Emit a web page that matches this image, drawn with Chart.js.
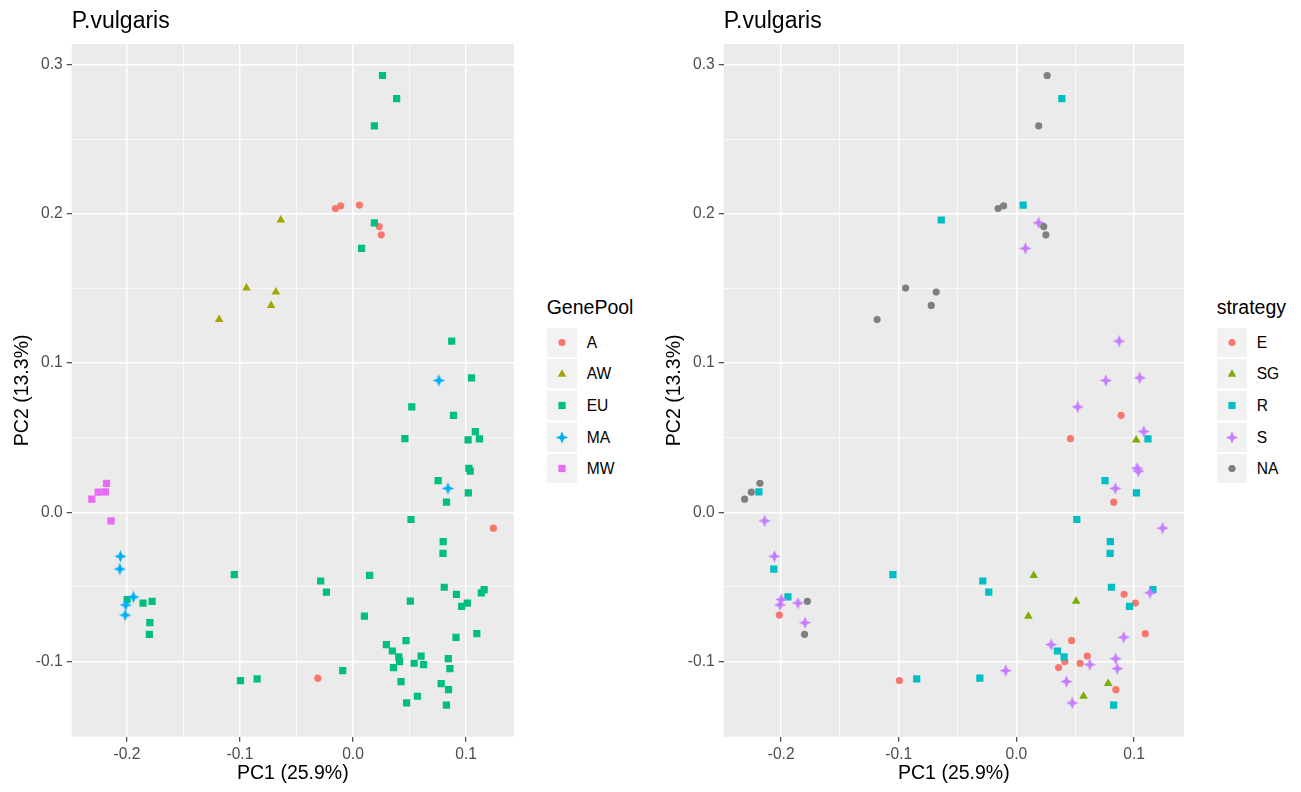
<!DOCTYPE html>
<html><head><meta charset="utf-8">
<script src="https://cdn.jsdelivr.net/npm/chart.js@4.4.1/dist/chart.umd.min.js"></script>
<style>
body{margin:0;background:#fff;width:1301px;height:792px;position:relative;overflow:hidden;font-family:"Liberation Sans",Arial,sans-serif;}
canvas{position:absolute;top:0;}
.lg-title{position:absolute;font-size:19.5px;line-height:19.5px;color:#000;white-space:nowrap}
.lg-row{position:absolute;height:29px;display:flex;align-items:center}
.lg-key{width:30px;height:29px;background:#F2F2F2;display:block}
.lg-lab{font-size:15.6px;line-height:29px;margin-left:10px;color:#000;white-space:nowrap}
</style></head>
<body>
<canvas id="c1" width="520" height="792" style="left:0px;width:520px;height:792px"></canvas>
<canvas id="c2" width="538" height="792" style="left:652px;width:538px;height:792px"></canvas>
<div id="legends"></div>
<script>
// ---- data ----
const pc1=[0.0261,0.0386,0.0189,-0.0156,-0.0109,0.0057,-0.0639,0.0189,0.0232,0.0250,
0.0076,-0.0942,-0.0682,-0.0724,-0.1184,0.0873,0.0760,0.1048,0.0520,0.0889,
0.0459,0.1082,0.1018,0.1118,0.1025,0.1037,0.0753,0.0840,0.1020,0.0827,
-0.2310,-0.2253,-0.2180,-0.2189,-0.2140,0.0513,0.1242,0.0798,0.0796,-0.2057,
-0.2062,-0.1050,0.0147,-0.0286,-0.0235,0.0807,0.0915,0.1160,0.1135,0.0507,
0.1011,0.0961,-0.1942,-0.1998,-0.2010,-0.1857,-0.1777,-0.2015,-0.1797,-0.1801,
0.0101,0.1095,0.0911,0.0295,0.0469,0.0348,0.0405,0.0411,0.0602,0.0541,
0.0624,0.0358,0.0843,0.0857,-0.0091,-0.0311,-0.0995,-0.0848,0.0425,0.0780,
0.0845,0.0570,0.0474,0.0826];
const pc2=[0.2926,0.2771,0.2589,0.2035,0.2053,0.2058,0.1958,0.1939,0.1914,0.1859,
0.1768,0.1502,0.1475,0.1386,0.1291,0.1147,0.0883,0.0901,0.0706,0.0650,
0.0493,0.0541,0.0485,0.0492,0.0295,0.0276,0.0213,0.0160,0.0130,0.0068,
0.0088,0.0135,0.0194,0.0137,-0.0057,-0.0048,-0.0106,-0.0197,-0.0275,-0.0295,
-0.0380,-0.0418,-0.0423,-0.0460,-0.0534,-0.0502,-0.0549,-0.0518,-0.0540,-0.0595,
-0.0608,-0.0630,-0.0567,-0.0584,-0.0620,-0.0608,-0.0596,-0.0688,-0.0739,-0.0817,
-0.0696,-0.0813,-0.0837,-0.0886,-0.0860,-0.0929,-0.0969,-0.1000,-0.0963,-0.1011,
-0.1020,-0.1040,-0.0980,-0.1047,-0.1060,-0.1111,-0.1127,-0.1115,-0.1134,-0.1147,
-0.1188,-0.1232,-0.1277,-0.1292];
const genePool=['EU','EU','EU','A','A','A','AW','EU','A','A',
'EU','AW','AW','AW','AW','EU','MA','EU','EU','EU',
'EU','EU','EU','EU','EU','EU','EU','MA','EU','EU',
'MW','MW','MW','MW','MW','EU','A','EU','EU','MA',
'MA','EU','EU','EU','EU','EU','EU','EU','EU','EU',
'EU','EU','MA','EU','MA','EU','EU','MA','EU','EU',
'EU','EU','EU','EU','EU','EU','EU','EU','EU','EU',
'EU','EU','EU','EU','EU','A','EU','EU','EU','EU',
'EU','EU','EU','EU'];
const strategy=['NA','R','NA','NA','NA','R','R','S','NA','NA',
'S','NA','NA','NA','NA','S','S','S','S','E',
'E','S','SG','R','S','S','R','S','R','E',
'NA','NA','NA','R','S','R','S','R','R','S',
'R','R','SG','R','R','R','E','R','S','SG',
'E','R','R','S','S','S','NA','E','S','NA',
'SG','E','S','S','E','R','R','E','E','E',
'S','E','S','S','S','R','E','R','S','SG',
'E','SG','S','R'];
const genePoolLevels=['A','AW','EU','MA','MW'];
const strategyLevels=['E','SG','R','S','NA'];
const xTicks=[-0.2,-0.15,-0.1,-0.05,0,0.05,0.1];
const yTicks=[-0.1,-0.05,0,0.05,0.1,0.15,0.2,0.25,0.3];

// ---- styles ----
const FONT='"Liberation Sans", Arial, sans-serif';
const genePoolColors=['#F8766D','#A3A500','#00BF7D','#00B0F6','#E76BF3'];
const genePoolShapes=['circle','triangle','square','star','square'];
const strategyColors=['#F8766D','#7CAE00','#00BFC4','#C77CFF','#7F7F7F'];
const strategyShapes=['circle','triangle','square','star','circle'];
const STAR_OUT=6.2, STAR_IN=2.6;

function makeStar(color){
  const c=document.createElement('canvas'); c.width=13; c.height=13;
  const g=c.getContext('2d'); g.fillStyle=color; g.beginPath();
  for(let k=0;k<8;k++){const a=-Math.PI/2+k*Math.PI/4; const r=(k%2===0)?STAR_OUT:STAR_IN;
    const px=6.5+r*Math.cos(a), py=6.5+r*Math.sin(a); k?g.lineTo(px,py):g.moveTo(px,py);}
  g.closePath(); g.fill(); return c;
}
const isMajor=v=>Math.abs(v*10-Math.round(v*10))<1e-6;
const radiusOf={circle:3.6,triangle:5,square:5.1,star:6};

const panelBg={id:'panelBg',beforeDraw(chart){const {ctx,chartArea:a}=chart;ctx.save();ctx.fillStyle='#EBEBEB';ctx.fillRect(a.left,a.top,a.right-a.left,a.bottom-a.top);ctx.restore();}};

function makeChart(id,levels,colors,shapes,groups){
  const datasets=levels.map((lv,i)=>({
    label:lv,
    data:pc1.map((x,j)=>({x:x,y:pc2[j],g:groups[j]})).filter(p=>p.g===lv),
    pointStyle:shapes[i]==='star'?makeStar(colors[i]):(shapes[i]==='square'?'rect':shapes[i]),
    pointRadius:radiusOf[shapes[i]],
    pointHoverRadius:radiusOf[shapes[i]],
    backgroundColor:colors[i],
    borderWidth:0,pointBorderWidth:0,showLine:false
  })).reverse();
  return new Chart(document.getElementById(id),{
    type:'scatter',
    data:{datasets:datasets},
    plugins:[panelBg],
    options:{
      responsive:false,animation:false,devicePixelRatio:1,
      layout:{padding:{left:0,right:4,top:0,bottom:0}},
      plugins:{
        legend:{display:false},tooltip:{enabled:false},
        title:{display:true,text:'P.vulgaris',align:'start',fullSize:false,color:'#000',
          font:{family:FONT,size:23,weight:'normal'},padding:{top:7.8,bottom:8.6}}
      },
      scales:{
        x:{type:'linear',min:-0.2488,max:0.1424,
          afterBuildTicks:s=>{s.ticks=xTicks.map(v=>({value:v}));},
          afterFit:s=>{s.height=55.3;},
          ticks:{autoSkip:false,maxRotation:0,padding:3.6,color:'#4D4D4D',font:{family:FONT,size:15.6},
            callback:v=>isMajor(v)?v.toFixed(1):''},
          grid:{color:'#FFFFFF',lineWidth:c=>(c.tick&&isMajor(c.tick.value))?1.4:0.7,
            tickColor:c=>(c.tick&&isMajor(c.tick.value))?'#333333':'rgba(0,0,0,0)',tickLength:5,tickWidth:1.1},
          border:{display:false},
          title:{display:true,text:'PC1 (25.9%)',color:'#000',font:{family:FONT,size:19.5},padding:{top:0,bottom:6.3}}
        },
        y:{type:'linear',min:-0.1503,max:0.3137,
          afterBuildTicks:s=>{s.ticks=yTicks.map(v=>({value:v}));},
          afterFit:s=>{s.width=71.7;},
          ticks:{autoSkip:false,padding:4,color:'#4D4D4D',font:{family:FONT,size:15.6},
            callback:v=>isMajor(v)?v.toFixed(1):''},
          grid:{color:'#FFFFFF',lineWidth:c=>(c.tick&&isMajor(c.tick.value))?1.4:0.7,
            tickColor:c=>(c.tick&&isMajor(c.tick.value))?'#333333':'rgba(0,0,0,0)',tickLength:5,tickWidth:1.1},
          border:{display:false},
          title:{display:true,text:'PC2 (13.3%)',color:'#000',font:{family:FONT,size:19.5},padding:{top:10.8,bottom:0}}
        }
      }
    }
  });
}
makeChart('c1',genePoolLevels,genePoolColors,genePoolShapes,genePool);
makeChart('c2',strategyLevels,strategyColors,strategyShapes,strategy);

// ---- legends (HTML) ----
function symbolSvg(shape,color){
  let s='';
  if(shape==='circle') s=`<circle cx="15" cy="14.5" r="3.6" fill="${color}"/>`;
  else if(shape==='triangle'){const r=5;const pts=[0,1,2].map(k=>{const a=-Math.PI/2+k*2*Math.PI/3;return (15+r*Math.cos(a)).toFixed(2)+','+(15.2+r*Math.sin(a)).toFixed(2);}).join(' ');s=`<polygon points="${pts}" fill="${color}"/>`;}
  else if(shape==='square') s=`<rect x="11.4" y="10.9" width="7.2" height="7.2" fill="${color}"/>`;
  else {const pts=[];for(let k=0;k<8;k++){const a=-Math.PI/2+k*Math.PI/4;const r=(k%2===0)?STAR_OUT:STAR_IN;pts.push((15+r*Math.cos(a)).toFixed(2)+','+(14.5+r*Math.sin(a)).toFixed(2));}s=`<polygon points="${pts.join(' ')}" fill="${color}"/>`;}
  return `<svg class="lg-key" width="30" height="29" viewBox="0 0 30 29">${s}</svg>`;
}
function makeLegend(left,title,levels,colors,shapes){
  const root=document.getElementById('legends');
  const t=document.createElement('div');t.className='lg-title';t.style.left=left+'px';t.style.top='297.5px';t.textContent=title;root.appendChild(t);
  levels.forEach((lv,i)=>{
    const r=document.createElement('div');r.className='lg-row';r.style.left=left+'px';r.style.top=(327.7+i*31.65)+'px';
    r.innerHTML=symbolSvg(shapes[i],colors[i])+`<span class="lg-lab">${lv}</span>`;root.appendChild(r);
  });
}
makeLegend(546.7,'GenePool',genePoolLevels,genePoolColors,genePoolShapes);
makeLegend(1216.7,'strategy',strategyLevels,strategyColors,strategyShapes);
</script>
</body></html>
